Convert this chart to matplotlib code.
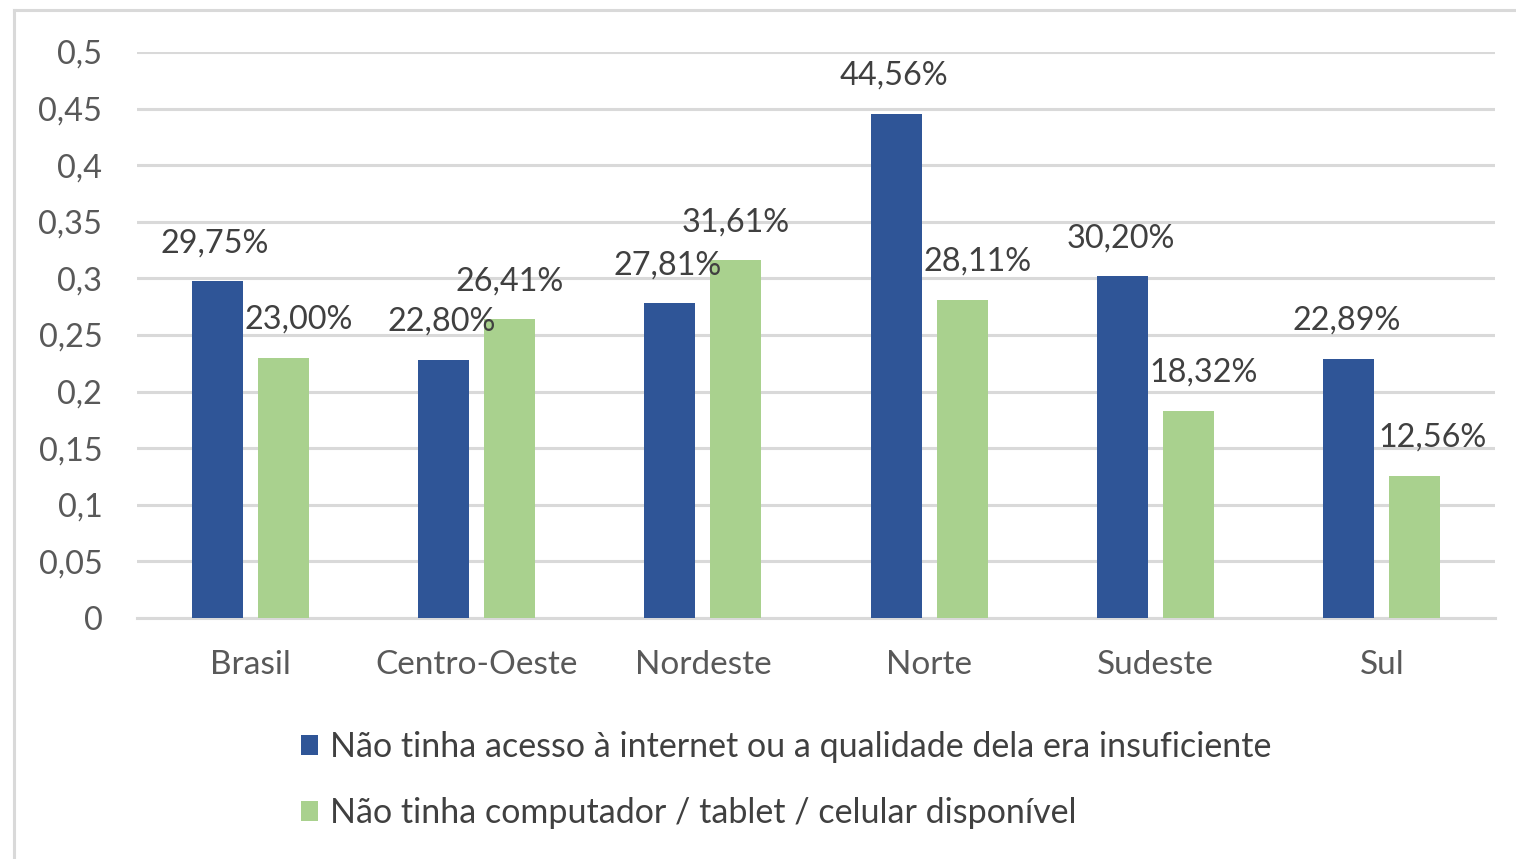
import matplotlib
matplotlib.use("Agg")
import matplotlib.pyplot as plt
import numpy as np

categories = ["Brasil", "Centro-Oeste", "Nordeste", "Norte", "Sudeste", "Sul"]
internet = [0.2975, 0.2280, 0.2781, 0.4456, 0.3020, 0.2289]
device = [0.2300, 0.2641, 0.3161, 0.2811, 0.1832, 0.1256]
series_names = ["Não tinha acesso à internet ou a qualidade dela era insuficiente",
                "Não tinha computador / tablet / celular disponível"]
yticks = [0, 0.05, 0.1, 0.15, 0.2, 0.25, 0.3, 0.35, 0.4, 0.45, 0.5]
ytick_labels = ["0", "0,05", "0,1", "0,15", "0,2", "0,25", "0,3", "0,35", "0,4", "0,45", "0,5"]

def pct(v):
    return f"{v*100:.2f}%".replace(".", ",")

plt.rcParams['font.family'] = ['Lato', 'DejaVu Sans']

W, H = 1516, 859
fig = plt.figure(figsize=(W/100, H/100), dpi=100)
ax = fig.add_axes([137/W, (H-618)/H, 1358/W, 566/H])

blue = "#2F5597"
green = "#A9D18E"
grid_c = "#D9D9D9"

x = np.arange(len(categories))
bw = 0.225
off = 0.146
ax.bar(x - off, internet, bw, color=blue, label=series_names[0], zorder=3)
ax.bar(x + off, device, bw, color=green, label=series_names[1], zorder=3)

green_dx = [15, 0, 0, 15, 15, 18]
for i in range(len(categories)):
    ax.annotate(pct(internet[i]), (x[i] - off, internet[i]), xytext=(-2, 38),
                textcoords="offset pixels", ha="center", va="center",
                fontsize=23.3, color="#404040", zorder=5)
    ax.annotate(pct(device[i]), (x[i] + off, device[i]), xytext=(green_dx[i], 38),
                textcoords="offset pixels", ha="center", va="center",
                fontsize=23.3, color="#404040", zorder=5)

ax.set_xlim(-0.5, len(categories) - 0.5)
ax.set_ylim(0, 0.5)
ax.set_yticks(yticks)
ax.set_yticklabels(ytick_labels)
ax.set_xticks(x)
ax.set_xticklabels(categories)
ax.tick_params(axis="y", length=0, labelsize=23.3, labelcolor="#595959", pad=25)
ax.tick_params(axis="x", length=0, labelsize=24, labelcolor="#595959", pad=23)
ax.grid(axis="y", color=grid_c, linewidth=2.2, zorder=0)
for s in ["top", "right", "left"]:
    ax.spines[s].set_visible(False)
ax.spines["bottom"].set_color(grid_c)
ax.spines["bottom"].set_linewidth(2.2)

leg = fig.legend(loc="upper left", bbox_to_anchor=(301/W, 1 - 731/H),
                 frameon=False, fontsize=24.5, labelcolor="#404040",
                 handlelength=0.5, handleheight=0.5, handletextpad=0.35,
                 labelspacing=1.0, borderpad=0, borderaxespad=0)

# chart border (left and top edges visible in the crop)
fig.add_artist(plt.Line2D([14/W, 14/W], [0, 1 - 10/H], color=grid_c, linewidth=2.2))
fig.add_artist(plt.Line2D([14/W, 1], [1 - 10/H, 1 - 10/H], color=grid_c, linewidth=2.2))

fig.savefig("out.png", dpi=100, facecolor="white")
